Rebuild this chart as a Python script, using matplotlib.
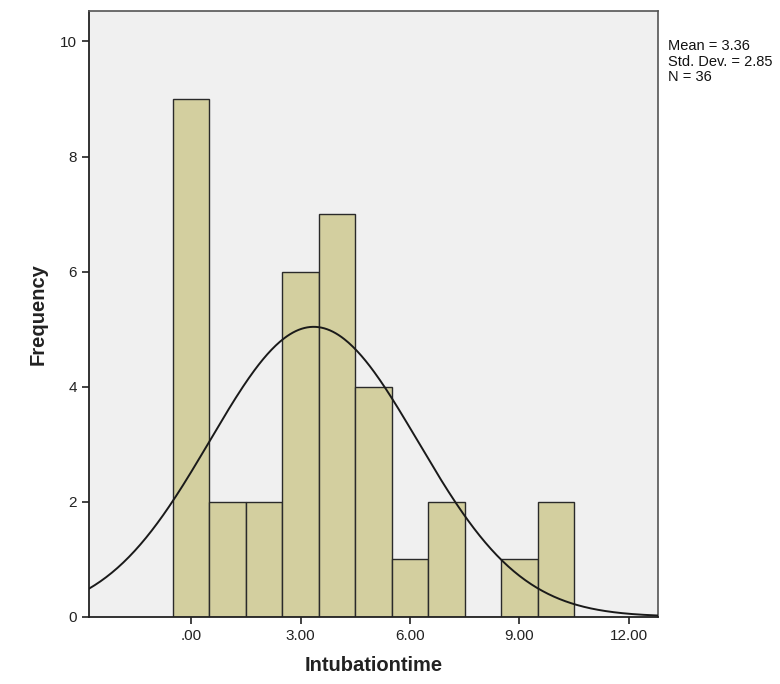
import numpy as np
import matplotlib
matplotlib.use("Agg")
import matplotlib.pyplot as plt

plt.rcParams.update({
    "font.family": "sans-serif",
    "font.sans-serif": ["Liberation Sans", "Arial", "DejaVu Sans"],
})

# histogram bins (centre of each 1-unit bin) and counts
bin_centers = [0, 1, 2, 3, 4, 5, 6, 7, 8, 9, 10]
counts = [9, 2, 2, 6, 7, 4, 1, 2, 0, 1, 2]
mean_val = 3.36
std_val = 2.85
n_obs = 36

x_ticks = [0, 3, 6, 9, 12]
x_tick_labels = [".00", "3.00", "6.00", "9.00", "12.00"]
y_ticks = [0, 2, 4, 6, 8, 10]

fig = plt.figure(figsize=(7.8, 6.84), dpi=100)
ax = fig.add_axes([89 / 780, 67.3 / 684, 569 / 780, 605.7 / 684])
ax.set_facecolor("#f0f0f0")

ax.bar(bin_centers, counts, width=1.0, color="#d3cf9f",
       edgecolor="#2a2a2a", linewidth=1.0, zorder=2)

# normal curve scaled to counts (bin width = 1)
xs = np.linspace(-2.8, 12.8, 400)
ys = n_obs * 1.0 / (std_val * np.sqrt(2 * np.pi)) * np.exp(-0.5 * ((xs - mean_val) / std_val) ** 2)
ax.plot(xs, ys, color="#1a1a1a", linewidth=1.4, zorder=3)

ax.set_xlim(-2.8, 12.8)
ax.set_ylim(0, 10.53)
ax.set_xticks(x_ticks)
ax.set_xticklabels(x_tick_labels)
ax.set_yticks(y_ticks)
ax.tick_params(axis="both", direction="out", length=5, width=1.2,
               labelsize=11, color="#222222", labelcolor="#222222")

for side in ["left", "bottom"]:
    ax.spines[side].set_color("#222222")
    ax.spines[side].set_linewidth(1.3)
for side in ["top", "right"]:
    ax.spines[side].set_color("#555555")
    ax.spines[side].set_linewidth(1.2)

ax.set_xlabel("Intubationtime", fontsize=14.5, fontweight="bold", labelpad=10, color="#222222")
ax.set_ylabel("Frequency", fontsize=14.5, fontweight="bold", labelpad=9, color="#222222")

fig.text(668 / 780, 1 - 39 / 684,
         f"Mean = {mean_val:.2f}\nStd. Dev. = {std_val:.2f}\nN = {n_obs}",
         fontsize=10.5, va="top", ha="left", linespacing=1.15, color="#111111")

fig.savefig("out.png", dpi=100)
